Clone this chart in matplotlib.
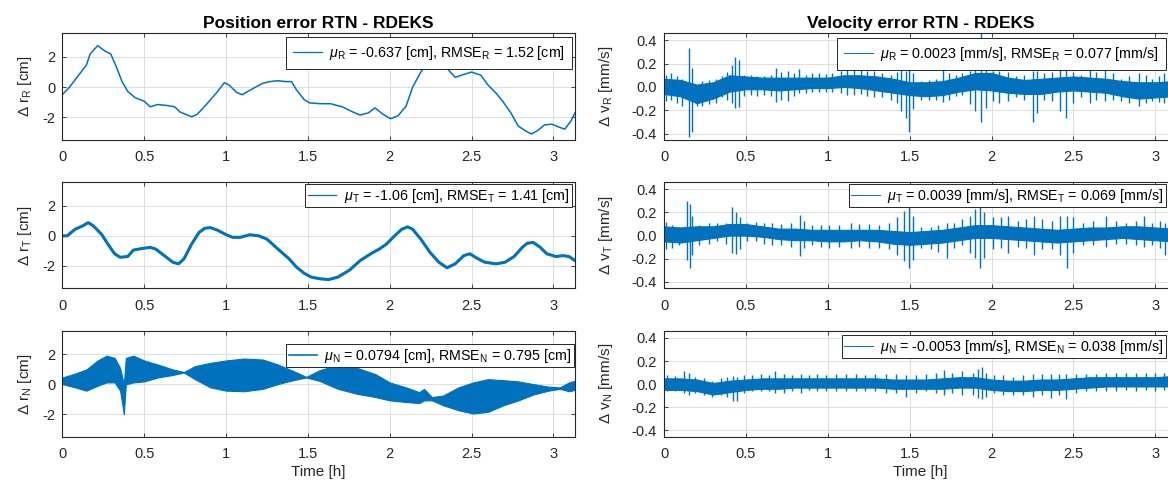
import matplotlib
matplotlib.use("Agg")
import matplotlib.pyplot as plt
from matplotlib.lines import Line2D

plt.rcParams['font.family'] = ['Liberation Sans', 'DejaVu Sans']
plt.rcParams['mathtext.fontset'] = 'custom'
plt.rcParams['mathtext.rm'] = 'Liberation Sans'
plt.rcParams['mathtext.it'] = 'Liberation Sans:italic'
plt.rcParams['axes.unicode_minus'] = False

BLUE = "#0072BD"
DARK = "#262626"

# ---- position error R [cm]
t_R = [0.000, 0.044, 0.100, 0.147, 0.170, 0.216, 0.260, 0.296, 0.330, 0.365,
       0.400, 0.445, 0.500, 0.537, 0.583, 0.630, 0.686, 0.720, 0.790, 0.824,
       0.880, 0.940, 0.990, 1.020, 1.065, 1.100, 1.133, 1.180, 1.225, 1.270,
       1.317, 1.363, 1.400, 1.430, 1.478, 1.510, 1.570, 1.640, 1.710, 1.776,
       1.820, 1.870, 1.910, 1.960, 2.005, 2.050, 2.100, 2.140, 2.190, 2.220,
       2.260, 2.300, 2.350, 2.400, 2.440, 2.500, 2.556, 2.600, 2.650, 2.690,
       2.740, 2.785, 2.830, 2.866, 2.900, 2.946, 2.990, 3.040, 3.070, 3.107, 3.132]
v_R = [-0.50, 0.00, 0.80, 1.45, 2.20, 2.75, 2.40, 2.20, 1.35, 0.37,
       -0.28, -0.70, -0.93, -1.30, -1.15, -1.20, -1.30, -1.65, -1.96, -1.80,
       -1.15, -0.40, 0.30, 0.13, -0.35, -0.50, -0.28, 0.00, 0.26, 0.37,
       0.43, 0.37, 0.37, -0.17, -0.83, -1.04, -1.09, -1.10, -1.30, -1.65,
       -1.85, -1.70, -1.37, -1.80, -2.09, -1.90, -1.26, 0.00, 1.00, 1.45,
       1.70, 1.70, 1.25, 0.65, 0.80, 1.00, 0.80, 0.15, -0.40, -0.93,
       -1.70, -2.57, -2.90, -3.10, -2.90, -2.50, -2.45, -2.67, -2.78, -2.24, -1.70]

# ---- position error T [cm]
t_T = [0.000, 0.030, 0.078, 0.124, 0.158, 0.190, 0.240, 0.285, 0.320, 0.353,
       0.400, 0.434, 0.490, 0.537, 0.570, 0.630, 0.675, 0.710, 0.743, 0.790,
       0.835, 0.870, 0.904, 0.950, 0.996, 1.040, 1.088, 1.145, 1.200, 1.250,
       1.317, 1.386, 1.430, 1.478, 1.520, 1.570, 1.627, 1.684, 1.753, 1.820,
       1.890, 1.937, 1.980, 2.030, 2.074, 2.110, 2.140, 2.190, 2.246, 2.300,
       2.350, 2.400, 2.453, 2.490, 2.530, 2.580, 2.650, 2.705, 2.760, 2.810,
       2.840, 2.877, 2.920, 2.960, 3.015, 3.060, 3.095, 3.132]
v_T = [0.00, 0.00, 0.44, 0.66, 0.88, 0.66, 0.10, -0.66, -1.20, -1.43,
       -1.38, -0.95, -0.84, -0.77, -0.88, -1.38, -1.76, -1.87, -1.54, -0.55,
       0.22, 0.50, 0.55, 0.37, 0.10, -0.10, -0.10, 0.07, 0.00, -0.22,
       -0.88, -1.54, -2.08, -2.50, -2.75, -2.86, -2.92, -2.75, -2.30, -1.65,
       -1.16, -0.88, -0.55, 0.00, 0.44, 0.60, 0.44, -0.22, -1.10, -1.76,
       -2.13, -1.87, -1.32, -1.20, -1.47, -1.76, -1.87, -1.76, -1.38, -0.77,
       -0.50, -0.44, -0.77, -1.20, -1.38, -1.32, -1.38, -1.65]

# ---- position error N [cm]: oscillation envelope
t_N = [0.000, 0.078, 0.147, 0.216, 0.270, 0.320, 0.353, 0.376, 0.388, 0.434,
       0.500, 0.583, 0.675, 0.743, 0.810, 0.904, 1.000, 1.110, 1.225, 1.317,
       1.410, 1.490, 1.570, 1.684, 1.800, 1.914, 2.000, 2.100, 2.180, 2.210,
       2.258, 2.327, 2.420, 2.510, 2.600, 2.694, 2.786, 2.877, 2.970, 3.040,
       3.095, 3.132]
hi_N = [0.46, 0.72, 1.00, 1.60, 1.92, 1.77, 1.10, 0.00, 1.77, 1.92,
        1.60, 1.33, 1.00, 0.83, 1.22, 1.44, 1.60, 1.73, 1.66, 1.33,
        0.90, 0.50, 0.94, 1.33, 1.11, 0.68, 0.13, -0.20, -0.52, -0.30,
        -0.85, -0.74, -0.20, 0.13, 0.35, 0.28, 0.20, 0.02, -0.15, -0.20,
        0.13, 0.24]
lo_N = [0.02, -0.20, -0.42, -0.09, 0.13, 0.13, -0.42, -2.00, 0.00, 0.13,
        0.20, 0.46, 0.63, 0.79, 0.35, -0.20, -0.42, -0.46, -0.30, 0.02,
        0.28, 0.46, 0.24, -0.30, -0.63, -0.85, -1.07, -1.18, -1.25, -1.07,
        -1.07, -1.40, -1.73, -1.95, -1.84, -1.40, -1.07, -0.68, -0.42, -0.30,
        -0.46, -0.37]

# ---- velocity errors [mm/s]: dense noise core every 0.1 h
t_band = [0.0, 0.1, 0.2, 0.3, 0.4, 0.5, 0.6, 0.7, 0.8, 0.9, 1.0, 1.1, 1.2, 1.3, 1.4, 1.5,
          1.6, 1.7, 1.8, 1.9, 2.0, 2.1, 2.2, 2.3, 2.4, 2.5, 2.6, 2.7, 2.8, 2.9, 3.0, 3.1, 3.132]
lo_vR = [-0.06, -0.08, -0.14, -0.10, -0.04, -0.02, -0.02, -0.03, -0.02, -0.01, -0.01,
         0.00, -0.01, -0.03, -0.05, -0.07, -0.08, -0.07, -0.04, -0.02, -0.03, -0.05,
         -0.06, -0.06, -0.04, -0.03, -0.04, -0.05, -0.08, -0.10, -0.09, -0.08, -0.08]
hi_vR = [0.07, 0.06, 0.02, 0.04, 0.10, 0.09, 0.08, 0.08, 0.08, 0.08, 0.08,
         0.10, 0.10, 0.09, 0.07, 0.04, 0.04, 0.05, 0.08, 0.12, 0.12, 0.08,
         0.06, 0.07, 0.08, 0.09, 0.08, 0.07, 0.05, 0.04, 0.04, 0.05, 0.05]
lo_vT = [-0.05, -0.06, -0.04, -0.02, 0.00, 0.00, -0.01, -0.03, -0.04, -0.04, -0.05,
         -0.05, -0.04, -0.05, -0.07, -0.08, -0.07, -0.06, -0.04, -0.02, -0.02, -0.03,
         -0.04, -0.05, -0.06, -0.05, -0.04, -0.03, -0.02, -0.03, -0.04, -0.05, -0.05]
hi_vT = [0.08, 0.07, 0.08, 0.08, 0.10, 0.10, 0.08, 0.06, 0.06, 0.05, 0.05,
         0.05, 0.05, 0.05, 0.04, 0.03, 0.04, 0.05, 0.07, 0.09, 0.09, 0.08,
         0.07, 0.06, 0.05, 0.06, 0.07, 0.07, 0.08, 0.08, 0.07, 0.06, 0.06]
lo_vN = [-0.05, -0.05, -0.06, -0.09, -0.07, -0.05, -0.04, -0.04, -0.03, -0.03, -0.03,
         -0.03, -0.03, -0.03, -0.04, -0.04, -0.04, -0.04, -0.03, -0.03, -0.05, -0.06,
         -0.06, -0.05, -0.05, -0.04, -0.03, -0.02, -0.02, -0.02, -0.02, -0.02, -0.02]
hi_vN = [0.05, 0.05, 0.04, 0.01, 0.03, 0.04, 0.05, 0.05, 0.05, 0.05, 0.05,
         0.05, 0.05, 0.05, 0.04, 0.04, 0.04, 0.05, 0.06, 0.06, 0.04, 0.03,
         0.03, 0.04, 0.04, 0.05, 0.06, 0.06, 0.06, 0.06, 0.06, 0.07, 0.07]

# ---- velocity spikes (time, min, max)
sp_t_vR = [0.010, 0.040, 0.080, 0.110, 0.153, 0.173, 0.204, 0.234, 0.275, 0.316,
           0.356, 0.387, 0.413, 0.434, 0.458, 0.489, 0.530, 0.570, 0.610, 0.652,
           0.686, 0.713, 0.754, 0.794, 0.825, 0.866, 0.906, 0.947, 0.988, 1.028,
           1.080, 1.120, 1.160, 1.200, 1.240, 1.280, 1.330, 1.385, 1.420, 1.446,
           1.476, 1.497, 1.520, 1.570, 1.620, 1.660, 1.705, 1.740, 1.780, 1.820,
           1.867, 1.900, 1.935, 1.965, 2.006, 2.047, 2.100, 2.150, 2.200, 2.250,
           2.275, 2.320, 2.370, 2.420, 2.454, 2.495, 2.546, 2.600, 2.640, 2.695,
           2.740, 2.790, 2.840, 2.900, 2.940, 2.980, 3.020, 3.050]
sp_hi_vR = [0.10, 0.12, 0.09, 0.07, 0.33, 0.16, 0.02, 0.05, 0.06, 0.07,
            0.09, 0.13, 0.19, 0.26, 0.23, 0.10, 0.10, 0.09, 0.09, 0.10,
            0.16, 0.13, 0.14, 0.12, 0.15, 0.10, 0.12, 0.12, 0.11, 0.12,
            0.14, 0.17, 0.16, 0.15, 0.14, 0.14, 0.12, 0.10, 0.13, 0.16,
            0.14, 0.30, 0.12, 0.05, 0.06, 0.07, 0.15, 0.12, 0.10, 0.12,
            0.14, 0.16, 0.47, 0.16, 0.14, 0.14, 0.13, 0.09, 0.10, 0.14,
            0.14, 0.12, 0.13, 0.15, 0.16, 0.13, 0.10, 0.16, 0.13, 0.17,
            0.12, 0.07, 0.09, 0.12, 0.10, 0.07, 0.09, 0.12]
sp_lo_vR = [-0.12, -0.11, -0.14, -0.16, -0.43, -0.39, -0.16, -0.16, -0.15, -0.14,
            -0.09, -0.11, -0.14, -0.18, -0.17, -0.08, -0.07, -0.08, -0.07, -0.08,
            -0.13, -0.11, -0.12, -0.08, -0.05, -0.05, -0.04, -0.04, -0.04, -0.04,
            -0.05, -0.07, -0.07, -0.06, -0.08, -0.09, -0.09, -0.11, -0.14, -0.21,
            -0.27, -0.39, -0.19, -0.11, -0.11, -0.11, -0.13, -0.11, -0.08, -0.07,
            -0.15, -0.21, -0.30, -0.18, -0.12, -0.14, -0.12, -0.09, -0.11, -0.30,
            -0.22, -0.11, -0.12, -0.21, -0.27, -0.14, -0.09, -0.14, -0.11, -0.12,
            -0.11, -0.12, -0.14, -0.16, -0.14, -0.12, -0.13, -0.14]

sp_t_vT = [0.010, 0.050, 0.090, 0.143, 0.157, 0.173, 0.214, 0.275, 0.326, 0.377,
           0.413, 0.437, 0.462, 0.509, 0.560, 0.610, 0.660, 0.713, 0.774, 0.830,
           0.855, 0.906, 0.957, 1.008, 1.070, 1.140, 1.190, 1.250, 1.310, 1.375,
           1.425, 1.466, 1.493, 1.520, 1.570, 1.630, 1.675, 1.725, 1.770, 1.820,
           1.870, 1.900, 1.930, 1.955, 2.006, 2.057, 2.100, 2.160, 2.210, 2.260,
           2.310, 2.370, 2.420, 2.458, 2.495, 2.556, 2.617, 2.700, 2.760, 2.820,
           2.880, 2.930, 2.980, 3.030, 3.060]
sp_hi_vT = [0.12, 0.09, 0.07, 0.30, 0.27, 0.17, 0.09, 0.11, 0.11, 0.11,
            0.25, 0.20, 0.16, 0.11, 0.12, 0.11, 0.11, 0.10, 0.11, 0.18,
            0.13, 0.09, 0.09, 0.09, 0.09, 0.11, 0.10, 0.10, 0.09, 0.11,
            0.16, 0.21, 0.25, 0.17, 0.07, 0.07, 0.09, 0.11, 0.11, 0.14,
            0.17, 0.23, 0.44, 0.20, 0.16, 0.16, 0.17, 0.13, 0.14, 0.17,
            0.14, 0.13, 0.17, 0.17, 0.16, 0.11, 0.13, 0.17, 0.13, 0.11,
            0.13, 0.17, 0.11, 0.13, 0.11]
sp_lo_vT = [-0.12, -0.11, -0.08, -0.21, -0.28, -0.17, -0.08, -0.07, -0.05, -0.07,
            -0.15, -0.16, -0.12, -0.05, -0.05, -0.07, -0.08, -0.08, -0.10, -0.18,
            -0.11, -0.08, -0.10, -0.11, -0.10, -0.11, -0.10, -0.11, -0.11, -0.12,
            -0.17, -0.22, -0.28, -0.21, -0.11, -0.12, -0.14, -0.19, -0.11, -0.08,
            -0.15, -0.19, -0.28, -0.19, -0.12, -0.11, -0.15, -0.10, -0.11, -0.17,
            -0.12, -0.12, -0.17, -0.28, -0.15, -0.08, -0.08, -0.10, -0.07, -0.07,
            -0.08, -0.10, -0.08, -0.11, -0.17]

sp_t_vN = [0.020, 0.070, 0.120, 0.150, 0.190, 0.244, 0.295, 0.346, 0.387, 0.420,
           0.448, 0.490, 0.540, 0.590, 0.640, 0.680, 0.733, 0.784, 0.835, 0.886,
           0.937, 0.988, 1.050, 1.110, 1.170, 1.230, 1.290, 1.354, 1.415, 1.476,
           1.537, 1.600, 1.660, 1.710, 1.760, 1.820, 1.884, 1.920, 1.940, 1.965,
           2.016, 2.067, 2.130, 2.190, 2.250, 2.310, 2.360, 2.410, 2.454, 2.515,
           2.576, 2.637, 2.700, 2.760, 2.820, 2.880, 2.940, 3.000, 3.050]
sp_hi_vN = [0.08, 0.07, 0.11, 0.10, 0.06, 0.05, 0.03, 0.05, 0.06, 0.07,
            0.06, 0.08, 0.08, 0.09, 0.08, 0.11, 0.09, 0.08, 0.09, 0.08,
            0.09, 0.08, 0.09, 0.09, 0.09, 0.08, 0.09, 0.09, 0.09, 0.08,
            0.08, 0.09, 0.10, 0.12, 0.10, 0.11, 0.10, 0.13, 0.15, 0.10,
            0.08, 0.08, 0.06, 0.08, 0.09, 0.09, 0.09, 0.09, 0.09, 0.09,
            0.09, 0.09, 0.10, 0.10, 0.10, 0.10, 0.10, 0.10, 0.10]
sp_lo_vN = [-0.06, -0.06, -0.08, -0.09, -0.08, -0.09, -0.11, -0.09, -0.11, -0.15,
            -0.15, -0.08, -0.06, -0.06, -0.06, -0.08, -0.08, -0.06, -0.08, -0.05,
            -0.06, -0.06, -0.06, -0.06, -0.06, -0.06, -0.06, -0.08, -0.08, -0.11,
            -0.08, -0.06, -0.08, -0.09, -0.08, -0.09, -0.09, -0.12, -0.13, -0.11,
            -0.08, -0.09, -0.09, -0.09, -0.11, -0.09, -0.12, -0.09, -0.13, -0.08,
            -0.06, -0.06, -0.06, -0.06, -0.05, -0.06, -0.05, -0.06, -0.05]

leg_pos = [r'$\mu_{\mathrm{R}}$ = -0.637 [cm], RMSE$_{\mathrm{R}}$ = 1.52 [cm]',
           r'$\mu_{\mathrm{T}}$ = -1.06 [cm], RMSE$_{\mathrm{T}}$ = 1.41 [cm]',
           r'$\mu_{\mathrm{N}}$ = 0.0794 [cm], RMSE$_{\mathrm{N}}$ = 0.795 [cm]']
leg_vel = [r'$\mu_{\mathrm{R}}$ = 0.0023 [mm/s], RMSE$_{\mathrm{R}}$ = 0.077 [mm/s]',
           r'$\mu_{\mathrm{T}}$ = 0.0039 [mm/s], RMSE$_{\mathrm{T}}$ = 0.069 [mm/s]',
           r'$\mu_{\mathrm{N}}$ = -0.0053 [mm/s], RMSE$_{\mathrm{N}}$ = 0.038 [mm/s]']
ylab_pos = [r'$\Delta$ r$_{\mathrm{R}}$ [cm]', r'$\Delta$ r$_{\mathrm{T}}$ [cm]', r'$\Delta$ r$_{\mathrm{N}}$ [cm]']
ylab_vel = [r'$\Delta$ v$_{\mathrm{R}}$ [mm/s]', r'$\Delta$ v$_{\mathrm{T}}$ [mm/s]', r'$\Delta$ v$_{\mathrm{N}}$ [mm/s]']

W, H = 1168, 484
fig = plt.figure(figsize=(W / 100, H / 100), dpi=100)
fig.patch.set_facecolor("white")

rows = [(33.3, 140.0), (182.3, 288.3), (331.0, 436.7)]   # pixel top/bottom
cols = [(62.3, 575.0), (664.0, 1177.0)]
# legend anchors (right, top) in pixels per [col][row]
leg_anchor = [[(572, 36.7), (572, 184.3), (574, 344.0)],
              [(1166, 37.7), (1166, 184.0), (1166, 335.0)]]


def px_axes(c, r):
    x0, x1 = cols[c]
    y0, y1 = rows[r]
    return fig.add_axes([x0 / W, 1 - y1 / H, (x1 - x0) / W, (y1 - y0) / H])


def style(ax, ylim, yticks, ylab, labx):
    ax.set_xlim(0, 3.132)
    ax.set_ylim(*ylim)
    ax.set_xticks([0, 0.5, 1, 1.5, 2, 2.5, 3])
    ax.set_xticklabels(["0", "0.5", "1", "1.5", "2", "2.5", "3"])
    ax.set_yticks(yticks)
    ax.grid(True, color="#dfdfdf", lw=0.7)
    ax.set_axisbelow(True)
    for s in ax.spines.values():
        s.set_color(DARK)
        s.set_linewidth(0.8)
    ax.tick_params(direction="in", length=3, width=0.6, colors=DARK, labelsize=10.5,
                   top=True, right=True)
    ax.tick_params(axis="x", pad=7.5)
    ax.tick_params(axis="y", pad=5)
    ax.set_ylabel(ylab, fontsize=11, color=DARK)
    ax.yaxis.set_label_coords(labx, 0.5)


def legend(ax, text, c, r, lw):
    xr, yt = leg_anchor[c][r]
    h = Line2D([], [], color=BLUE, lw=lw)
    lg = ax.legend([h], [text], loc="upper right", bbox_to_anchor=(xr / W, 1 - yt / H),
                   bbox_transform=fig.transFigure, borderaxespad=0, fontsize=10.3,
                   fancybox=False, framealpha=1, edgecolor=DARK, handlelength=2.0,
                   handletextpad=0.5, borderpad=0.5 if r == 0 else 0.18)
    lg.get_frame().set_linewidth(0.7)
    lg.set_zorder(10)


pos_ylim = (-3.5, 3.57)
vel_ylim = (-0.455, 0.46)

ax = px_axes(0, 0)
ax.plot(t_R, v_R, color=BLUE, lw=1.1)
style(ax, pos_ylim, [-2, 0, 2], ylab_pos[0], -0.055)
legend(ax, leg_pos[0], 0, 0, 0.9)
ax.set_title("Position error RTN - RDEKS", fontsize=12.5, fontweight="bold", color="black", pad=4)

ax = px_axes(0, 1)
ax.plot(t_T, v_T, color=BLUE, lw=2.2)
style(ax, pos_ylim, [-2, 0, 2], ylab_pos[1], -0.055)
legend(ax, leg_pos[1], 0, 1, 0.9)

ax = px_axes(0, 2)
ax.fill_between(t_N, lo_N, hi_N, color=BLUE, lw=0.8, edgecolor=BLUE)
style(ax, pos_ylim, [-2, 0, 2], ylab_pos[2], -0.055)
legend(ax, leg_pos[2], 0, 2, 1.2)
ax.set_xlabel("Time [h]", fontsize=11, color=DARK, labelpad=3)

vel = [(lo_vR, hi_vR, sp_t_vR, sp_lo_vR, sp_hi_vR),
       (lo_vT, hi_vT, sp_t_vT, sp_lo_vT, sp_hi_vT),
       (lo_vN, hi_vN, sp_t_vN, sp_lo_vN, sp_hi_vN)]
for r, (lo, hi, st, slo, shi) in enumerate(vel):
    ax = px_axes(1, r)
    ax.fill_between(t_band, lo, hi, color=BLUE, lw=0.8, edgecolor=BLUE)
    ax.vlines(st, slo, shi, color=BLUE, lw=1.0)
    style(ax, vel_ylim, [-0.4, -0.2, 0, 0.2, 0.4], ylab_vel[r], -0.095)
    legend(ax, leg_vel[r], 1, r, 0.7)
    if r == 0:
        ax.set_title("Velocity error RTN - RDEKS", fontsize=12.5, fontweight="bold",
                     color="black", pad=4)
    if r == 2:
        ax.set_xlabel("Time [h]", fontsize=11, color=DARK, labelpad=3)

fig.savefig("out.png", dpi=100)
